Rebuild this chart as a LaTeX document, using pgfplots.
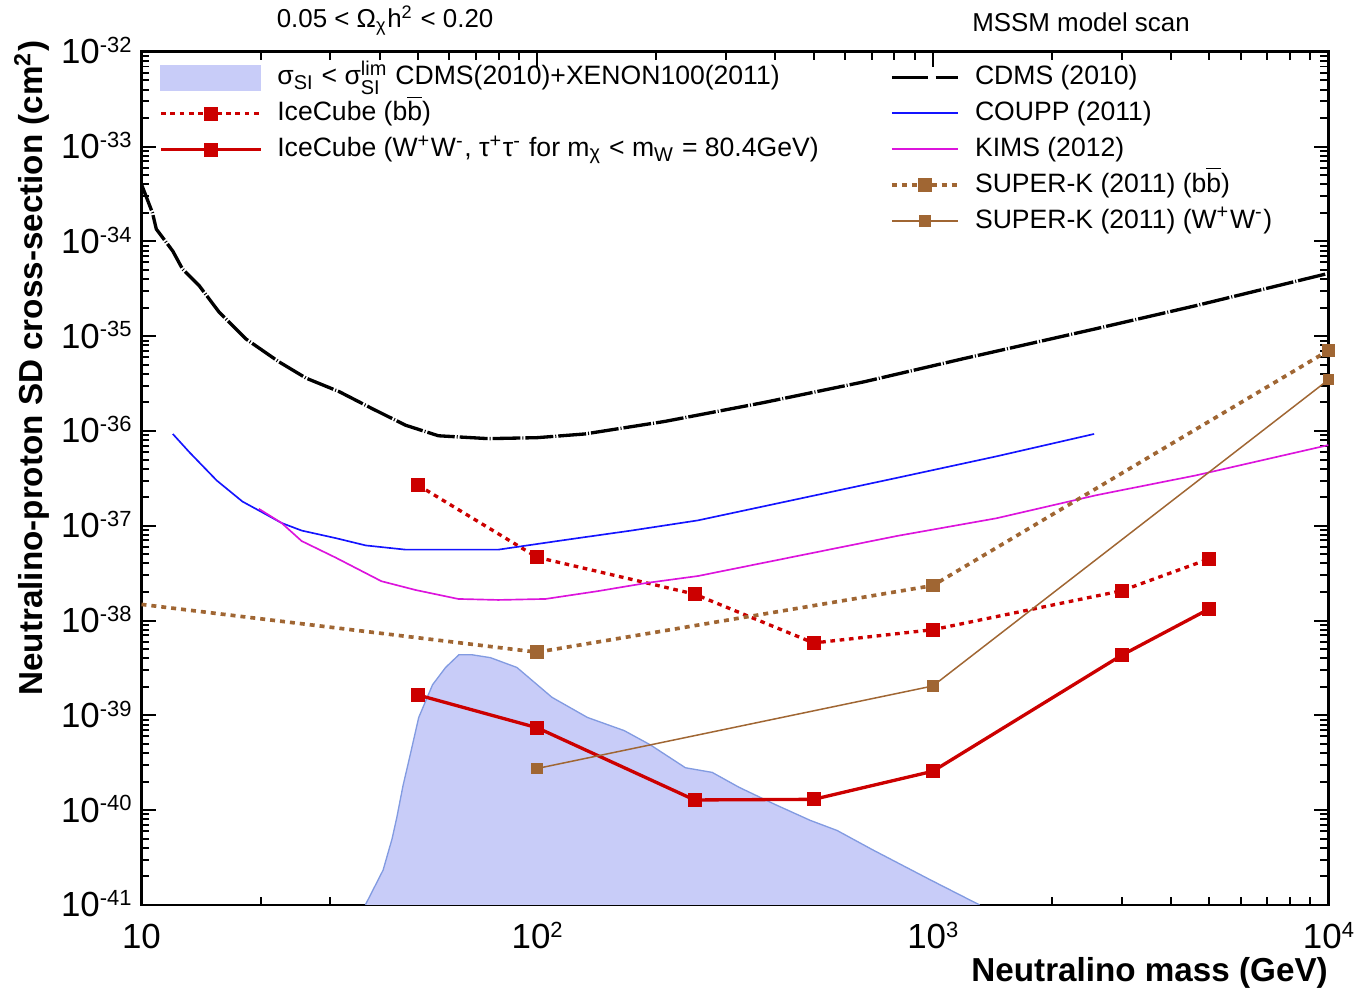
\documentclass[border=0pt]{standalone}
\usepackage{fontspec}
\setmainfont{Liberation Sans}
\usepackage{amsmath}
\usepackage{pgfplots}
\pgfplotsset{compat=1.18}

\definecolor{icered}{RGB}{204,0,0}
\definecolor{skbrown}{RGB}{160,102,51}
\definecolor{coupp}{RGB}{20,20,255}
\definecolor{kims}{RGB}{220,20,220}
\definecolor{sifill}{RGB}{200,204,248}
\definecolor{siedge}{RGB}{130,155,225}

\newcommand\tsup[1]{\raisebox{3.4pt}{\fontsize{6.6}{7}\selectfont #1}}
\newcommand\bbar{b\ensuremath{\overline{\text{b}}}}

\begin{document}
\begin{tikzpicture}
\begin{axis}[
    width=357.3pt, height=256.8pt, scale only axis,
    xmode=log, ymode=log,
    xmin=10, xmax=10000, ymin=1e-41, ymax=1e-32,
    xtick={10,100,1000,10000},
    xticklabels={10,10\tsup{2},10\tsup{3},10\tsup{4}},
    ytick={1e-41,1e-40,1e-39,1e-38,1e-37,1e-36,1e-35,1e-34,1e-33,1e-32},
    yticklabels={10\tsup{-41},10\tsup{-40},10\tsup{-39},10\tsup{-38},10\tsup{-37},
                 10\tsup{-36},10\tsup{-35},10\tsup{-34},10\tsup{-33},10\tsup{-32}},
    axis line style={line width=0.8pt},
    tick style={black, line width=0.6pt},
    major tick length=4.5pt, minor tick length=2.4pt,
    tick label style={font=\fontsize{10.5}{12}\selectfont},
    xticklabel style={anchor=base, yshift=-13.2pt},
    yticklabel style={anchor=base east, yshift=-3.6pt, inner sep=0pt, xshift=-2.8pt},
    xlabel={Neutralino mass (GeV)},
    ylabel={Neutralino-proton SD cross-section (cm\textsuperscript{2})},
    label style={font=\fontsize{10}{12}\selectfont\bfseries, inner sep=0pt},
    xlabel style={at={(rel axis cs:1,-0.0607)}, anchor=north east},
    ylabel style={at={(rel axis cs:-0.0772,1.014)}, anchor=south east},
    legend style={at={(rel axis cs:0.0151,0.985)}, anchor=north west, draw=none, fill=none,
        inner sep=0pt, outer sep=0pt, row sep=3pt, column sep=4.5pt,
        font=\fontsize{8}{9.6}\selectfont,
        nodes={inner sep=0pt, text height=6pt, text depth=1.8pt}},
    legend cell align=left,
    legend image code/.code={\draw[mark repeat=2,mark phase=2,#1] plot coordinates {(0pt,0pt)(15pt,0pt)(30pt,0pt)};},
]

% MSSM scan region allowed by SI limits
\addplot[fill=sifill, draw=siedge, line width=0.4pt,
    legend image code/.code={\fill[sifill] (0pt,-3.75pt) rectangle (30pt,3.75pt);}]
    coordinates {
    (36.8,1.0e-41)(40.8,2.33e-41)(43.0,5.0e-41)(44.2,8.4e-41)(45.8,1.8e-40)(47.6,3.59e-40)
    (50.2,9.5e-40)(54.4,2.1e-39)(58.7,3.2e-39)(63.4,4.35e-39)(68.6,4.35e-39)(76.2,4.06e-39)
    (88.9,3.2e-39)(109,1.55e-39)(134,9.5e-40)(166,6.9e-40)(193,4.9e-40)(237,2.8e-40)
    (277,2.5e-40)(324,1.74e-40)(399,1.15e-40)(490,7.8e-41)(573,6.1e-41)(706,3.8e-41)
    (988,1.83e-41)(1313,1.0e-41)
    };
\addlegendentry{σ\textsubscript{SI} < σ\ensuremath{^{\text{lim}}_{\text{SI}}} CDMS(2010)+XENON100(2011)}

% IceCube bb
\addplot[icered, line width=1pt, dash pattern=on 1.4pt off 1.4pt,
    mark=square*, mark size=1.6pt, mark options={solid}]
    coordinates {(50,2.68e-37)(100,4.65e-38)(250,1.9e-38)(500,5.8e-39)(1000,8.0e-39)(3000,2.06e-38)(5000,4.48e-38)};
\addlegendentry{IceCube (\bbar)}

% IceCube WW
\addplot[icered, line width=1pt, mark=square*, mark size=1.6pt]
    coordinates {(50,1.64e-39)(100,7.4e-40)(250,1.28e-40)(500,1.3e-40)(1000,2.57e-40)(3000,4.3e-39)(5000,1.33e-38)};
\addlegendentry{IceCube (W\textsuperscript{+}W\textsuperscript{-}, τ\textsuperscript{+}τ\textsuperscript{-} for m\textsubscript{χ} < m\textsubscript{W} = 80.4GeV)}

% CDMS 2010
\addplot[forget plot, black, line width=1pt, dash pattern=on 8.4pt off 0.6pt on 0.3pt off 0.6pt]
    coordinates {
    (10,4.0e-34)(10.66,2.0e-34)(10.9,1.35e-34)(12.0,7.9e-35)(12.7,5.1e-35)(14.0,3.4e-35)
    (15.7,1.8e-35)(18.4,9.3e-36)(22.2,5.4e-36)(26.1,3.6e-36)(31.6,2.6e-36)(38.2,1.73e-36)
    (46.5,1.15e-36)(56.3,8.9e-37)(75.3,8.3e-37)(100,8.5e-37)(132,9.3e-37)(210,1.26e-36)
    (375,2.0e-36)(670,3.3e-36)(1197,5.8e-36)(2588,1.2e-35)(4624,2.1e-35)(10000,4.6e-35)
    };

% COUPP 2011
\addplot[forget plot, color=coupp, line width=0.5pt]
    coordinates {
    (12.0,9.3e-37)(13.2,6.0e-37)(15.5,3.0e-37)(18.0,1.8e-37)(19.8,1.45e-37)(22.6,1.07e-37)
    (25.4,8.9e-38)(31.0,7.4e-38)(36.9,6.2e-38)(46.5,5.6e-38)(79.8,5.6e-38)(118,7.1e-38)
    (173,8.9e-38)(255,1.14e-37)(811,3.2e-37)(1449,5.4e-37)(2557,9.3e-37)
    };

% KIMS 2012
\addplot[forget plot, color=kims, line width=0.5pt]
    coordinates {
    (19.8,1.51e-37)(22.6,1.07e-37)(25.4,6.9e-38)(31.0,4.6e-38)(40.4,2.6e-38)(49.3,2.1e-38)
    (63.2,1.69e-38)(79.8,1.65e-38)(105,1.69e-38)(142,2.04e-38)(190,2.5e-38)(255,2.95e-38)
    (811,7.8e-38)(1449,1.2e-37)(2588,2.1e-37)(4624,3.4e-37)(10000,7.1e-37)
    };

% SUPER-K bb
\addplot[forget plot, skbrown, line width=1.1pt, dash pattern=on 1.5pt off 1.5pt,
    mark=square*, mark size=1.5pt, mark options={solid}, mark indices={2,3,4}]
    coordinates {(10,1.48e-38)(100,4.64e-39)(1000,2.34e-38)(10000,7.06e-36)};

% SUPER-K WW
\addplot[forget plot, skbrown, line width=0.45pt, mark=square*, mark size=1.5pt]
    coordinates {(100,2.75e-40)(1000,2.04e-39)(10000,3.47e-36)};

\coordinate (t1) at (rel axis cs:0.1134,1.028);
\coordinate (t2) at (rel axis cs:0.6994,1.0234);
\coordinate (bl) at (rel axis cs:-0.1192,-0.1016);
\coordinate (tr) at (rel axis cs:1.0269,1.0607);
\end{axis}

% second legend block
\begin{axis}[
    width=357.3pt, height=256.8pt, scale only axis, hide axis,
    xmode=log, ymode=log,
    xmin=10, xmax=10000, ymin=1e-41, ymax=1e-32,
    legend style={at={(rel axis cs:0.6306,0.985)}, anchor=north west, draw=none, fill=none,
        inner sep=0pt, outer sep=0pt, row sep=3pt, column sep=4.5pt,
        font=\fontsize{8}{9.6}\selectfont,
        nodes={inner sep=0pt, text height=6pt, text depth=1.8pt}},
    legend cell align=left,
    legend image code/.code={\draw[mark repeat=2,mark phase=2,#1] plot coordinates {(0pt,0pt)(10pt,0pt)(20pt,0pt)};},
]
\addlegendimage{black, line width=1pt, dash pattern=on 10.8pt off 2.4pt}
\addlegendentry{CDMS (2010)}
\addlegendimage{color=coupp, line width=0.6pt}
\addlegendentry{COUPP (2011)}
\addlegendimage{color=kims, line width=0.6pt}
\addlegendentry{KIMS (2012)}
\addlegendimage{skbrown, line width=1.1pt, dash pattern=on 1.5pt off 1.5pt, mark=square*, mark size=1.5pt, mark options={solid}}
\addlegendentry{SUPER-K (2011) (\bbar)}
\addlegendimage{skbrown, line width=0.45pt, mark=square*, mark size=1.5pt}
\addlegendentry{SUPER-K (2011) (W\textsuperscript{+}W\textsuperscript{-})}
\end{axis}
\node[anchor=base west, inner sep=0pt, font=\fontsize{7.8}{9}\selectfont] at (t1)
    {0.05 < Ω\textsubscript{χ}h\textsuperscript{2} < 0.20};
\node[anchor=base west, inner sep=0pt, font=\fontsize{7.8}{9}\selectfont] at (t2)
    {MSSM model scan};
\path (bl) rectangle (tr);
\end{tikzpicture}
\end{document}
